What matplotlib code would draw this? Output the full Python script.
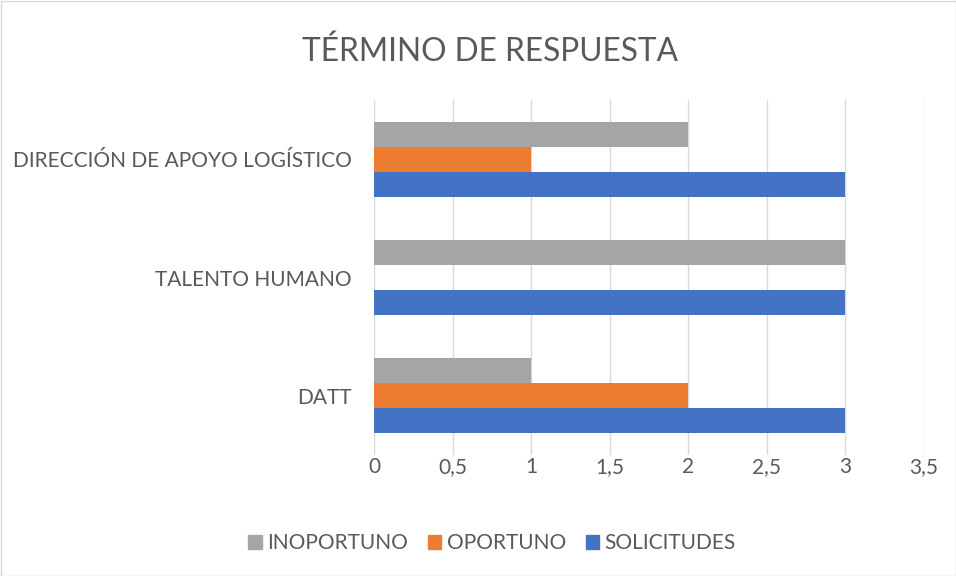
import matplotlib
matplotlib.use("Agg")
import matplotlib.pyplot as plt
from matplotlib.patches import Patch, Rectangle
import numpy as np

categories = ["DATT", "TALENTO HUMANO", "DIRECCIÓN DE APOYO LOGÍSTICO"]
solicitudes = [3, 3, 3]
oportuno = [2, 0, 1]
inoportuno = [1, 3, 2]
xticks = [0, 0.5, 1, 1.5, 2, 2.5, 3, 3.5]
xtick_labels = ["0", "0,5", "1", "1,5", "2", "2,5", "3", "3,5"]

plt.rcParams['font.family'] = ['Lato', 'DejaVu Sans']
text_color = "#595959"

fig = plt.figure(figsize=(9.56, 5.76), dpi=100)
ax = fig.add_axes([374/956, 1-455/576, (924-374)/956, (455-100)/576])

y = np.arange(len(categories))
h = 0.211
ax.barh(y - h, solicitudes, height=h, color="#4472C4", label="SOLICITUDES", zorder=3)
ax.barh(y, oportuno, height=h, color="#ED7D31", label="OPORTUNO", zorder=3)
ax.barh(y + h, inoportuno, height=h, color="#A5A5A5", label="INOPORTUNO", zorder=3)

ax.set_xlim(0, 3.5)
ax.set_ylim(-0.5, 2.5)
ax.set_xticks(xticks)
ax.set_xticklabels(xtick_labels)
ax.set_yticks(y)
ax.set_yticklabels(categories)
ax.tick_params(axis='both', length=0, labelsize=15, colors=text_color)
ax.tick_params(axis='x', pad=1.5)
ax.tick_params(axis='y', pad=16)
ax.grid(axis='x', color="#D9D9D9", linewidth=1, zorder=0)
for s in ax.spines.values():
    s.set_visible(False)

fig.text(490/956, 1-52/576, "TÉRMINO DE RESPUESTA", ha='center', va='center',
         fontsize=22.8, fontweight='normal', color=text_color)

handles = [Patch(color="#A5A5A5", label="INOPORTUNO"),
           Patch(color="#ED7D31", label="OPORTUNO"),
           Patch(color="#4472C4", label="SOLICITUDES")]
leg = fig.legend(handles=handles, loc='center', bbox_to_anchor=(492/956, 1-543/576),
                 ncol=3, frameon=False, fontsize=15, handlelength=0.65, handleheight=0.65,
                 handletextpad=0.25, columnspacing=0.95)
for t in leg.get_texts():
    t.set_color(text_color)

fig.patches.append(Rectangle((0.5/956, 0.5/576), 1-1/956, 1-1/576, transform=fig.transFigure,
                             fill=False, edgecolor="#D9D9D9", linewidth=1))

fig.savefig("out.png", dpi=100)
